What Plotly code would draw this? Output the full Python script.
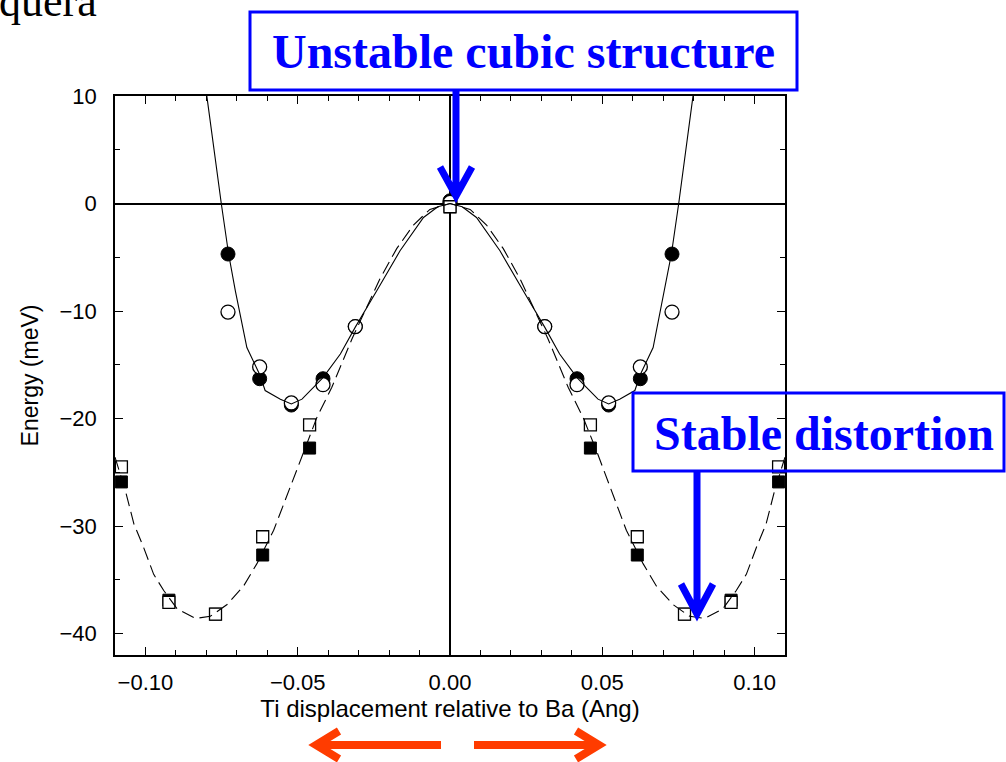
import plotly.graph_objects as go

# ---------------- data ----------------
# circle set (left half; mirrored for right half)
circ_x = [-0.0729, -0.0625, -0.0521, -0.0417, -0.0311, 0.0]
circ_filled_y = [-4.7, -16.3, -18.75, -16.3, -11.45, 0.25]
circ_open_y = [-10.1, -15.2, -18.55, -16.85, -11.45, 0.1]

# square set (left half; mirrored for right half)
sq_x = [-0.1079, -0.0923, -0.0770, -0.0615, -0.0461, 0.0]
sq_filled_y = [-25.9, -36.9, -38.2, -32.7, -22.75, -0.3]
sq_open_y = [-24.5, -37.1, -38.2, -31.0, -20.6, -0.3]

# solid fitted curve (left half, x<=0)
solid_x = [-0.0805, -0.0798, -0.0751, -0.0727, -0.0705, -0.0667, -0.0625, -0.0607,
           -0.0557, -0.0521, -0.0486, -0.0448, -0.0417, -0.0360, -0.0311, -0.0240,
           -0.0164, -0.0087, -0.0040, 0.0]
solid_y = [11.5, 9.9, 0.0, -4.7, -8.1, -13.4, -15.9, -17.4,
           -18.2, -18.65, -18.2, -17.1, -16.2, -14.0, -11.5, -8.1,
           -4.4, -1.3, -0.3, 0.0]

# dashed fitted curve (left half, x<=0)
dash_x = [-0.1100, -0.1090, -0.1066, -0.1038, -0.1006, -0.0973, -0.0940, -0.0896,
          -0.0836, -0.0787, -0.0732, -0.0678, -0.0634, -0.0579, -0.0525, -0.0481,
          -0.0437, -0.0388, -0.0322, -0.0230, -0.0175, -0.0120, -0.0066, 0.0]
dash_y = [-23.6, -24.5, -26.7, -29.8, -32.0, -34.5, -36.0, -37.7,
          -38.6, -38.4, -37.3, -35.6, -33.5, -30.4, -26.4, -23.0,
          -19.9, -17.1, -12.6, -7.0, -4.2, -2.0, -0.55, 0.0]

x_tickvals = [-0.10, -0.05, 0.0, 0.05, 0.10]
x_ticktext = ["\u22120.10", "\u22120.05", "0.00", "0.05", "0.10"]
y_tickvals = [10, 0, -10, -20, -30, -40]
y_ticktext = ["10", "0", "\u221210", "\u221220", "\u221230", "\u221240"]


def mirror(xs, ys):
    """left half + mirrored right half (x -> -x)"""
    rx = [-v for v in reversed(xs) if v != 0.0]
    ry = [ys[i] for i in reversed(range(len(xs))) if xs[i] != 0.0]
    return list(xs) + rx, list(ys) + ry


# ---------------- figure geometry ----------------
W, H = 1006, 762
L, R, T, B = 115, 785, 96, 655


def px(x):
    return (x - L) / (R - L)


def py(y):
    return (B - y) / (B - T)


fig = go.Figure()

cx, cfy = mirror(circ_x, circ_filled_y)
_, coy = mirror(circ_x, circ_open_y)
sx, sfy = mirror(sq_x, sq_filled_y)
_, soy = mirror(sq_x, sq_open_y)
lx, ly = mirror(solid_x, solid_y)
dx, dy = mirror(dash_x, dash_y)

fig.add_trace(go.Scatter(x=cx, y=cfy, mode="markers",
                         marker=dict(symbol="circle", size=14, color="black",
                                     line=dict(color="black", width=1))))
fig.add_trace(go.Scatter(x=cx, y=coy, mode="markers",
                         marker=dict(symbol="circle", size=14, color="white",
                                     line=dict(color="black", width=1.3))))
fig.add_trace(go.Scatter(x=sx, y=sfy, mode="markers",
                         marker=dict(symbol="square", size=12, color="black",
                                     line=dict(color="black", width=1))))
fig.add_trace(go.Scatter(x=sx, y=soy, mode="markers",
                         marker=dict(symbol="square", size=12, color="white",
                                     line=dict(color="black", width=1.3))))
fig.add_trace(go.Scatter(x=lx, y=ly, mode="lines",
                         line=dict(color="black", width=1.1)))
fig.add_trace(go.Scatter(x=dx, y=dy, mode="lines",
                         line=dict(color="black", width=1.1, dash="13px,6px")))

axis_common = dict(showline=True, linecolor="black", linewidth=1.5, mirror="ticks",
                   ticks="inside", tickcolor="black", tickwidth=1.2, ticklen=8,
                   showgrid=False, zeroline=True, zerolinecolor="black",
                   zerolinewidth=1.5,
                   tickfont=dict(family="Liberation Sans, Arial", size=22, color="black"))

fig.update_layout(
    width=W, height=H,
    margin=dict(l=L, r=W - R, t=T, b=H - B, pad=0),
    paper_bgcolor="white", plot_bgcolor="white",
    showlegend=False,
    xaxis=dict(range=[-0.11, 0.11], tickvals=x_tickvals, ticktext=x_ticktext,
               minor=dict(dtick=0.01, tick0=0, ticks="inside", ticklen=5,
                          tickcolor="black", tickwidth=1.2),
               ticklabelstandoff=7,
               title=dict(text="Ti displacement relative to Ba (Ang)",
                          font=dict(family="Liberation Sans, Arial", size=24, color="black"),
                          standoff=6),
               **axis_common),
    yaxis=dict(range=[-42, 10], tickvals=y_tickvals, ticktext=y_ticktext,
               minor=dict(dtick=5, tick0=0, ticks="inside", ticklen=5,
                          tickcolor="black", tickwidth=1.2),
               ticklabelstandoff=12,
               title=dict(text="Energy (meV)",
                          font=dict(family="Liberation Sans, Arial", size=23, color="black"),
                          standoff=14),
               **axis_common),
)

blue = "#0000FF"
red = "#FF3C00"

shapes = []
# annotation boxes (transparent, plot shows through)
shapes.append(dict(type="rect", xref="paper", yref="paper",
                   x0=px(250), x1=px(797), y0=py(90), y1=py(12),
                   line=dict(color=blue, width=3), fillcolor="rgba(0,0,0,0)", layer="above"))
shapes.append(dict(type="rect", xref="paper", yref="paper",
                   x0=px(633), x1=px(1004), y0=py(471), y1=py(393),
                   line=dict(color=blue, width=3), fillcolor="rgba(0,0,0,0)", layer="above"))


def path(points_list):
    s = ""
    for pts in points_list:
        s += "M %f %f " % (px(pts[0][0]), py(pts[0][1]))
        for p in pts[1:]:
            s += "L %f %f " % (px(p[0]), py(p[1]))
    return s


# blue arrows
shapes.append(dict(type="path", xref="paper", yref="paper",
                   path=path([[(456, 91), (456, 194)], [(440, 167), (456, 196), (472, 167)]]),
                   line=dict(color=blue, width=7), layer="above"))
shapes.append(dict(type="path", xref="paper", yref="paper",
                   path=path([[(697, 472), (697, 612)], [(681, 584), (697, 614), (713, 584)]]),
                   line=dict(color=blue, width=7), layer="above"))
# red arrows
shapes.append(dict(type="path", xref="paper", yref="paper",
                   path=path([[(441, 745), (318, 745)], [(339, 731), (316, 745), (339, 759)]]),
                   line=dict(color=red, width=8), layer="above"))
shapes.append(dict(type="path", xref="paper", yref="paper",
                   path=path([[(474, 745), (596, 745)], [(576, 731), (599, 745), (576, 759)]]),
                   line=dict(color=red, width=8), layer="above"))
fig.update_layout(shapes=shapes)

ann_font = dict(family="Liberation Serif, Times New Roman", size=48, color=blue)
fig.add_annotation(text="<b>Unstable cubic structure</b>", xref="paper", yref="paper",
                   x=px(523), y=py(52), xanchor="center", yanchor="middle",
                   showarrow=False, font=ann_font)
fig.add_annotation(text="<b>Stable distortion</b>", xref="paper", yref="paper",
                   x=px(824), y=py(433), xanchor="center", yanchor="middle",
                   showarrow=False, font=ann_font)
fig.add_annotation(text="quera", xref="paper", yref="paper",
                   x=px(-3), y=py(1), xanchor="left", yanchor="middle",
                   showarrow=False,
                   font=dict(family="Liberation Serif, Times New Roman", size=44, color="black"))

fig.write_html("out.html")
